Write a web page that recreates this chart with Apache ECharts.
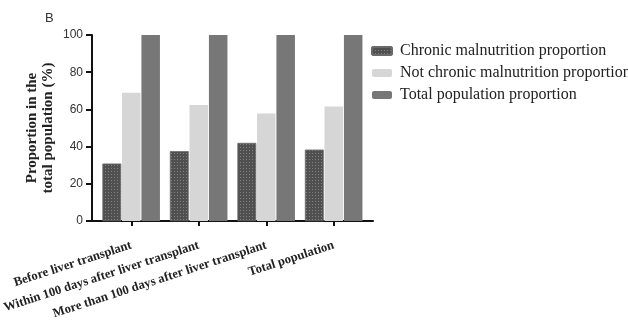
<!DOCTYPE html>
<html><head><meta charset="utf-8">
<script src="https://cdn.jsdelivr.net/npm/echarts@6/dist/echarts.min.js"></script>
<style>html,body{margin:0;padding:0;background:#fff}#c{width:628px;height:322px}</style>
</head><body><div id="c"></div>
<script>
const categories = ['Before liver transplant','Within 100 days after liver transplant','More than 100 days after liver transplant','Total population'];
const chronic = [30.8, 37.5, 41.9, 38.3];
const notChronic = [69.0, 62.3, 57.8, 61.5];
const total = [100, 100, 100, 100];
const yTicks = [0, 20, 40, 60, 80, 100];
const seriesNames = ['Chronic malnutrition proportion','Not chronic malnutrition proportion','Total population proportion'];

const serif = '"Liberation Serif","DejaVu Serif",serif';
const sans = '"Liberation Sans",Arial,sans-serif';
const chart = echarts.init(document.getElementById('c'));
const gridTop = 35, gridHeight = 186;
chart.setOption({
  backgroundColor:'#fff',
  animation:false,
  title:{text:'B',left:40,top:7,textStyle:{fontFamily:sans,fontSize:13,fontWeight:'normal',color:'#333'}},
  legend:{
    orient:'vertical',left:366,top:38,itemWidth:20,itemHeight:8,itemGap:6,
    textStyle:{fontFamily:serif,fontSize:16,color:'#222',padding:[0,0,0,3]},
    data:seriesNames
  },
  grid:[
    {left:92,top:gridTop,width:281,height:gridHeight,outerBoundsMode:'none',containLabel:false},
    {left:97.5,top:gridTop,width:270,height:gridHeight,outerBoundsMode:'none',containLabel:false}
  ],
  xAxis:[
    {gridIndex:0,type:'value',min:0,max:1,axisLine:{show:true,lineStyle:{color:'#111',width:2}},axisTick:{show:false},axisLabel:{show:false},splitLine:{show:false}},
    {gridIndex:1,type:'category',data:categories,
      axisLine:{show:false},
      axisTick:{show:true,alignWithLabel:true,length:5,lineStyle:{color:'#111',width:2}},
      axisLabel:{interval:0,rotate:18,margin:24,fontFamily:serif,fontWeight:'bold',fontSize:12.7,color:'#222'}}
  ],
  yAxis:[
    {gridIndex:0,type:'value',min:0,max:100,interval:20,
      name:'Proportion in the\ntotal population (%)',nameLocation:'middle',nameGap:36,nameRotate:90,
      nameTextStyle:{fontFamily:serif,fontWeight:'bold',fontSize:15,color:'#222',lineHeight:16},
      axisLine:{show:true,lineStyle:{color:'#111',width:2}},
      axisTick:{show:true,length:6,lineStyle:{color:'#111',width:2}},
      axisLabel:{fontFamily:sans,fontSize:12,color:'#333',margin:9,formatter:v=>yTicks.includes(v)?String(v):''},
      splitLine:{show:false}},
    {gridIndex:1,type:'value',min:0,max:100,show:false,splitLine:{show:false}}
  ],
  series:[
    {name:seriesNames[0],type:'bar',xAxisIndex:1,yAxisIndex:1,data:chronic,barGap:'5%',barCategoryGap:'15%',
      itemStyle:{color:'#505050',borderColor:'#6a6a6a',borderWidth:0.5,
        decal:{symbol:'rect',symbolSize:1,color:'rgba(150,150,150,0.7)',dashArrayX:[1,2],dashArrayY:[1,2],rotation:0}}},
    {name:seriesNames[1],type:'bar',xAxisIndex:1,yAxisIndex:1,data:notChronic,barGap:'5%',barCategoryGap:'15%',
      itemStyle:{color:'#d6d6d6'}},
    {name:seriesNames[2],type:'bar',xAxisIndex:1,yAxisIndex:1,data:total,barGap:'5%',barCategoryGap:'15%',
      itemStyle:{color:'#777777'}}
  ]
});
</script></body></html>
